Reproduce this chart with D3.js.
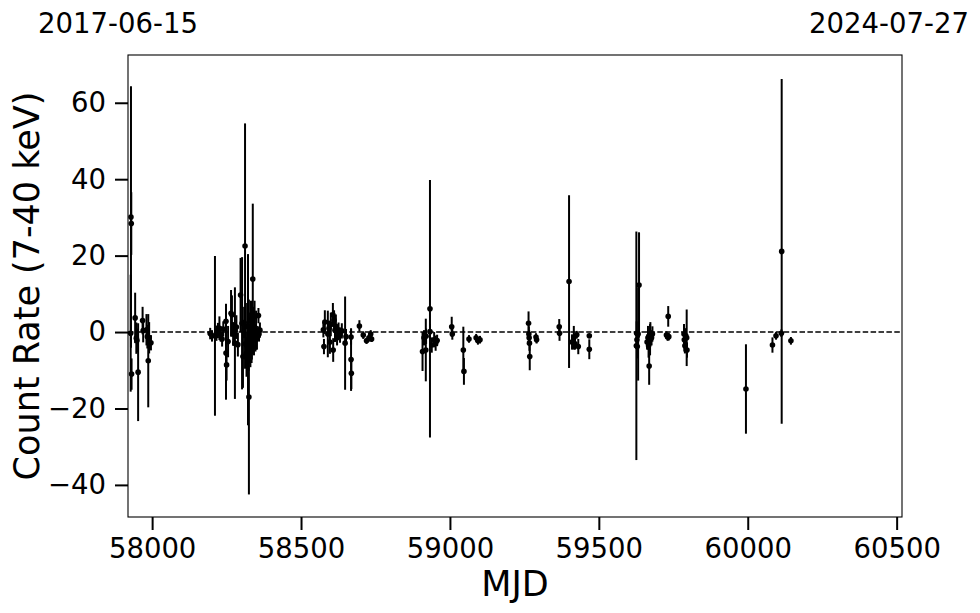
<!DOCTYPE html>
<html><head><meta charset="utf-8">
<script src="https://cdn.jsdelivr.net/npm/d3@7"></script>
<style>body{margin:0;background:#fff}svg{display:block}text{font-family:"DejaVu Sans",sans-serif;fill:#000}</style>
</head><body><svg id="c" width="980" height="613"></svg>
<script>
const mjd = [57929,57930,57928,57931,57943,57947,57949,57953,57968,57970,57981,57984,57987,57990,57996,
58195,58201,58211,58216,58221,58226,58230,58235,58239,58248,58248,58250,58255,58265,58268,58272,58278,58279,58283,58288,58297,58302,58305,58309,58312,58314,58316,58317,58319,58320,58322,58324,58325,58327,58329,58330,58332,58334,58335,58338,58340,58342,58344,58347,58349,58352,58357,58359,58362,
58575,58577,58580,58590,58594,58597,58600,58607,58608,58611,58614,58617,58621,58626,58631,58637,58648,58651,58668,58668,58669,58696,58709,58720,58728,58734,58737,
58908,58913,58919,58920,58933,58933,58939,58947,58952,58957,59006,59008,59045,59047,59064,59088,59094,59101,
59264,59265,59266,59267,59268,59289,59291,59367,59368,59400,59410,59416,59420,59426,59431,59468,59468,
59626,59627,59628,59629,59635,59632,59662,59665,59667,59669,59672,59673,59677,59680,59727,59731,59733,59735,59786,59787,59789,59792,59795,59796,
59994,60083,60095,60114,60113,60145];
const rate = [30.1,28.4,-0.3,-11.0,3.7,-1.6,-2.2,-10.5,3.0,0.4,0.6,-1.2,-7.5,-1.5,-2.8,
-0.4,-1.0,-1.0,-0.3,0.4,1.0,-0.5,-1.8,0.8,2.8,-5.5,-8.6,-2.5,4.9,4.5,-0.5,-2.9,0.3,1.3,-3.3,9.7,2.3,-6.4,2.5,22.5,-3.1,-5.6,-6.6,1.5,-4.1,-2,-6.1,-17.0,-3.1,0,-5.1,3.1,-2,-4.1,13.9,1.5,-1,4.1,-2,0.5,-1.5,4.3,-0.5,0.5,
0.6,-3.8,2.6,-0.5,1,-2.6,2,4.5,-4.7,3.1,0.5,1.5,-1.5,0.5,-0.8,0.3,-2.9,-1.2,-1.3,-7.2,-10.8,1.6,-0.8,-2.3,-1.5,-0.5,-1.8,
-5.1,-1.5,-4.7,-1.1,6.1,0.1,-3.4,-2.0,-2.9,-2.2,1.4,-0.5,-4.7,-10.3,-1.8,-1.5,-2.3,-2.0,
2.3,-0.5,-1.5,-2.9,-6.4,-1.3,-2,1.4,-0.3,13.2,-2.6,-1.5,-3.1,-0.7,-3.8,-1.0,-4.5,
-3.6,-0.3,-2,-3.8,12.3,-0.5,-2.6,-1.5,-3.6,-8.9,-2,-0.5,-1.5,-0.5,-0.8,-1.3,4.1,-1.2,-0.5,-2,-3.6,-1,-1.5,-4.7,
-14.9,-3.4,-1.0,21.1,-0.3,-2.3];
const err = [34.2,8.2,15.3,4.1,6.6,4.1,3.1,12.8,3.6,3.1,4.1,3.1,12.2,4.1,2,
1.5,1.5,20.9,2,2,3.1,2,2,2,4.6,12.2,4.1,4.1,6.1,5.1,3.1,14.6,2,3.1,3.1,9.7,17.3,8.2,4.1,32.1,3.1,3.1,5.1,6.1,4.1,22.4,4.1,25.5,5.1,5.1,4.1,5.1,6.1,3.1,19.7,5.1,5.1,4.1,3.1,5.1,3.1,2,2,2,
2,2,3.1,6.1,2,3.1,3.1,3.1,3.1,2.6,3.1,3.1,2,2,2,2,12.2,2,2,8.2,4.1,1.5,1,0.8,1,1,0.8,
5.1,2,8.2,2,33.7,2,2,2,2,1.5,2.6,1.5,6.1,3.5,1,1,1,1,
3.1,2,2,2,3.6,1,1,2,2,22.6,2,3.1,1.5,1,2,0.5,2.6,
29.9,3.1,2,3.1,13.8,12.2,2,3.1,3.1,4.9,4.1,3.1,2,2,1,1,2.7,1,2.6,3.1,2,2,7.4,2,
11.7,2,1,45.1,1,1];
const xTicks = [58000,58500,59000,59500,60000,60500];
const yTicks = [-40,-20,0,20,40,60];
const dateLabels = ["2017-06-15","2024-07-27"];
const xDomain = [57919,60518];
const yDomain = [-48.4,72.5];

const svg = d3.select("#c");
const m = {l:128,r:902,t:55,b:517};
const x = d3.scaleLinear().domain(xDomain).range([m.l,m.r]);
const y = d3.scaleLinear().domain(yDomain).range([m.b,m.t]);
const data = mjd.map((d,i)=>({x:d,y:rate[i],e:err[i]}));

const g = svg.append("g");
g.append("line").attr("x1",m.l).attr("x2",m.r).attr("y1",y(0)).attr("y2",y(0))
  .attr("stroke","#000").attr("stroke-width",1.5).attr("stroke-dasharray","5.5,2.4");
g.selectAll("line.eb").data(data).enter().append("line").attr("class","eb")
  .attr("x1",d=>x(d.x)).attr("x2",d=>x(d.x)).attr("y1",d=>y(d.y+d.e)).attr("y2",d=>y(d.y-d.e))
  .attr("stroke","#000").attr("stroke-width",2);
g.selectAll("circle").data(data).enter().append("circle")
  .attr("cx",d=>x(d.x)).attr("cy",d=>y(d.y)).attr("r",2.8).attr("fill","#000");

const xa = svg.append("g").attr("transform",`translate(0,${m.b})`)
  .call(d3.axisBottom(x).tickValues(xTicks).tickFormat(d3.format("d")).tickSize(13).tickPadding(8));
const ya = svg.append("g").attr("transform",`translate(${m.l},0)`)
  .call(d3.axisLeft(y).tickValues(yTicks).tickFormat(d=>d<0?"\u2212"+Math.abs(d):d).tickSize(13).tickPadding(9));
[xa,ya].forEach(a=>{a.select(".domain").remove();a.selectAll(".tick line").attr("stroke-width",2);
  a.selectAll(".tick text").style("font-size","27.5px").style("font-family","DejaVu Sans");});
svg.append("rect").attr("x",m.l).attr("y",m.t).attr("width",m.r-m.l).attr("height",m.b-m.t)
  .attr("fill","none").attr("stroke","#000").attr("stroke-width",1.1);

svg.append("text").attr("x",(m.l+m.r)/2).attr("y",596).attr("text-anchor","middle").style("font-size","35px").text("MJD");
svg.append("text").attr("transform",`translate(39,${(m.t+m.b)/2}) rotate(-90)`).attr("text-anchor","middle").style("font-size","35px").text("Count Rate (7-40 keV)");
svg.append("text").attr("x",m.l-10).attr("y",33).attr("text-anchor","middle").style("font-size","27.5px").text(dateLabels[0]);
svg.append("text").attr("x",m.r-13).attr("y",33).attr("text-anchor","middle").style("font-size","27.5px").text(dateLabels[1]);
</script></body></html>
